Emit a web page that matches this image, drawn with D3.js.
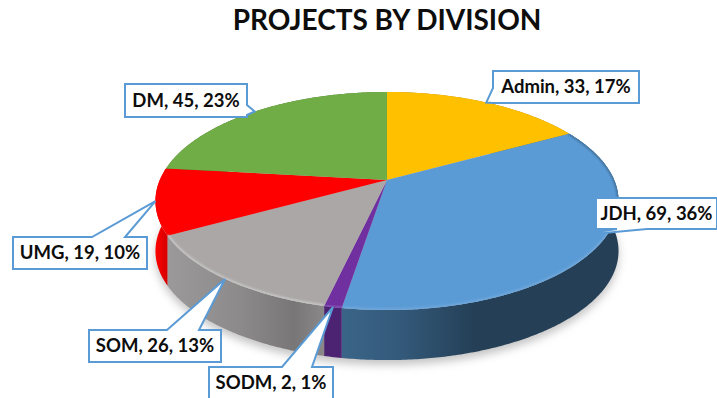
<!DOCTYPE html>
<html>
<head>
<meta charset="utf-8">
<script src="https://cdn.jsdelivr.net/npm/d3@7"></script>
<style>
  html, body { margin: 0; padding: 0; background: #fff; overflow: hidden; }
  text { font-family: Lato, "Open Sans", sans-serif; font-weight: 700; fill: #0d0d0d; }
</style>
</head>
<body>
<div id="chart"></div>
<script>
const chartTitle = "PROJECTS BY DIVISION";
const divisions = ["Admin", "JDH", "SODM", "SOM", "UMG", "DM"];
const projects = [33, 69, 2, 26, 19, 45];
const topColors = ["#ffc000", "#5b9bd5", "#7030a0", "#aba7a7", "#ff0000", "#70ad47"];
const wallColors = ["#a87f00", "url(#wall-jdh)", "#4b2372", "url(#wall-som)", "url(#wall-umg)", "#4a7330"];
const rimColors = ["none", "#72a9dc", "#8a52b8", "#cbc9c9", "none", "none"];

// callout boxes: x, y, w, h, side the pointer leaves from, pointer base, how far out the tip sits
const calloutBoxes = [
  { x: 493, y: 71, w: 146, h: 32, side: "left", base: [88, 103], reach: 1 },
  { x: 596, y: 198, w: 121, h: 31, side: "bottom", base: [617, 647], reach: 0.85 },
  { x: 209, y: 367, w: 124, h: 32, side: "top", base: [282, 312], reach: 1 },
  { x: 89, y: 330, w: 132, h: 32, side: "top", base: [167, 199], reach: 1 },
  { x: 13, y: 237, w: 134, h: 32, side: "top", base: [92, 125], reach: 1 },
  { x: 125, y: 84, w: 122, h: 33, side: "right", base: [105, 115], reach: 1 },
];

const width = 717;
const height = 398;

// the pie is a tilted disc, so a point on it goes through a small perspective divide
const centerX = 387;
const centerY = 180;
const radiusX = 227.2;
const radiusY = 105;
const perspective = 0.1927;
const wallDepth = 50;

function project(angle, r, drop) {
  const u = Math.sin(angle) * r;
  const w = Math.cos(angle) * r;
  const k = 1 / (1 + perspective * w);
  return [centerX + radiusX * u * k, centerY - radiusY * w * k + drop];
}

const total = d3.sum(projects);
const percent = d3.format(".0%");
const arcs = d3.pie().sort(null)(projects);
const line = d3.line();

function arcPoints(a0, a1, r, drop) {
  const n = Math.max(2, Math.ceil((a1 - a0) / 0.01));
  return d3.range(n + 1).map((i) => project(a0 + ((a1 - a0) * i) / n, r, drop));
}

const svg = d3
  .select("#chart")
  .append("svg")
  .attr("width", width)
  .attr("height", height)
  .style("display", "block");

const defs = svg.append("defs");

defs.append("filter").attr("id", "soft").attr("x", "-10%").attr("y", "-10%")
  .attr("width", "120%").attr("height", "120%")
  .append("feGaussianBlur").attr("stdDeviation", 4);
defs.append("filter").attr("id", "rim-blur").attr("x", "-10%").attr("y", "-10%")
  .attr("width", "120%").attr("height", "120%")
  .append("feGaussianBlur").attr("stdDeviation", 1);

function wallGradient(id, x1, x2, stops) {
  const g = defs.append("linearGradient").attr("id", id)
    .attr("gradientUnits", "userSpaceOnUse")
    .attr("x1", x1).attr("x2", x2).attr("y1", 0).attr("y2", 0);
  stops.forEach((s) => g.append("stop").attr("offset", s[0]).attr("stop-color", s[1]));
}
wallGradient("wall-jdh", 344, 618, [[0, "#3a6487"], [0.2, "#345a7b"], [0.48, "#243f56"], [1, "#243f56"]]);
wallGradient("wall-som", 168, 326, [[0, "#9b9999"], [0.45, "#8c8a8a"], [0.8, "#787676"], [1, "#8b8989"]]);
wallGradient("wall-umg", 155, 172, [[0, "#ff0000"], [1, "#c40000"]]);

const clip = defs.append("clipPath").attr("id", "top-clip");
clip.append("path").attr("d", line(arcPoints(0, 2 * Math.PI, 1, 0)) + "Z");

// soft shadow on the ground
svg.append("path")
  .attr("d", line(arcPoints(0, 2 * Math.PI, 1, wallDepth + 5)) + "Z")
  .attr("fill", "#c4c4c4")
  .attr("filter", "url(#soft)");

// walls, then top faces over them
svg.append("g")
  .selectAll("path")
  .data(arcs)
  .join("path")
  .attr("d", (d) => {
    const top = arcPoints(d.startAngle, d.endAngle, 1, 0);
    const bottom = arcPoints(d.startAngle, d.endAngle, 1, wallDepth).reverse();
    return line(top.concat(bottom)) + "Z";
  })
  .attr("fill", (d, i) => wallColors[i]);

svg.append("g")
  .selectAll("path")
  .data(arcs)
  .join("path")
  .attr("d", (d) => line([project(0, 0, 0)].concat(arcPoints(d.startAngle, d.endAngle, 1, 0))) + "Z")
  .attr("fill", (d, i) => topColors[i]);

// bevel along the rim: dark on the far side, light on the front
const frontAngle = Math.PI * 0.6;

svg.append("g")
  .attr("clip-path", "url(#top-clip)")
  .selectAll("path")
  .data(arcs.filter((d) => d.index === 1))
  .join("path")
  .attr("d", (d) => line(arcPoints(d.startAngle, frontAngle, 1, 0)))
  .attr("fill", "none")
  .attr("stroke", "#3f6f99")
  .attr("stroke-width", 3)
  .attr("filter", "url(#rim-blur)");

svg.append("g")
  .attr("clip-path", "url(#top-clip)")
  .selectAll("path")
  .data(arcs)
  .join("path")
  .attr("d", (d) => line(arcPoints(Math.max(d.startAngle, frontAngle), d.endAngle, 1, 0)))
  .attr("fill", "none")
  .attr("stroke", (d, i) => rimColors[i])
  .attr("stroke-width", 3)
  .attr("filter", "url(#rim-blur)");

svg.append("text")
  .attr("x", 387)
  .attr("y", 30)
  .attr("text-anchor", "middle")
  .style("font-size", "28px")
  .text(chartTitle);

function calloutPath(b, tip) {
  const x2 = b.x + b.w;
  const y2 = b.y + b.h;
  let pts;
  if (b.side === "top") {
    pts = [[b.x, b.y], [b.base[0], b.y], tip, [b.base[1], b.y], [x2, b.y], [x2, y2], [b.x, y2]];
  } else if (b.side === "bottom") {
    pts = [[b.x, b.y], [x2, b.y], [x2, y2], [b.base[1], y2], tip, [b.base[0], y2], [b.x, y2]];
  } else if (b.side === "right") {
    pts = [[b.x, b.y], [x2, b.y], [x2, b.base[0]], tip, [x2, b.base[1]], [x2, y2], [b.x, y2]];
  } else {
    pts = [[b.x, b.y], [x2, b.y], [x2, y2], [b.x, y2], [b.x, b.base[1]], tip, [b.x, b.base[0]]];
  }
  return line(pts) + "Z";
}

const callouts = svg.append("g")
  .selectAll("g")
  .data(arcs)
  .join("g");

callouts.append("path")
  .attr("d", (d, i) => {
    const mid = (d.startAngle + d.endAngle) / 2;
    return calloutPath(calloutBoxes[i], project(mid, calloutBoxes[i].reach, 0));
  })
  .attr("fill", "#fff")
  .attr("stroke", "#5b9bd5")
  .attr("stroke-width", 2);

callouts.append("text")
  .attr("x", (d, i) => calloutBoxes[i].x + calloutBoxes[i].w / 2)
  .attr("y", (d, i) => calloutBoxes[i].y + calloutBoxes[i].h / 2 + 6)
  .attr("text-anchor", "middle")
  .style("font-size", "18.5px")
  .text((d, i) => `${divisions[i]}, ${projects[i]}, ${percent(projects[i] / total)}`);
</script>
</body>
</html>
